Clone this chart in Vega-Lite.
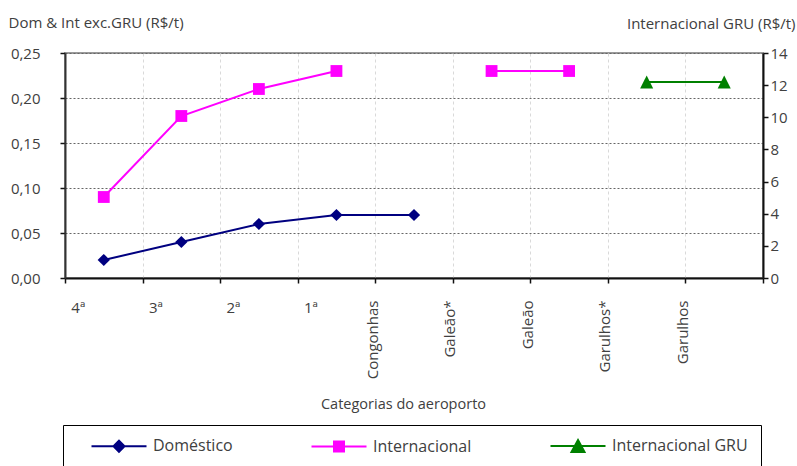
{
  "$schema": "https://vega.github.io/schema/vega-lite/v6.json",
  "width": 698,
  "height": 225,
  "autosize": {"type": "none"},
  "padding": {"left": 65, "top": 53, "right": 34, "bottom": 188},
  "config": {
    "font": "Open Sans",
    "view": {"stroke": "#9a9a9a", "strokeWidth": 2},
    "axis": {
      "labelFont": "Open Sans",
      "titleFont": "Open Sans",
      "labelColor": "#404040",
      "titleColor": "#404040",
      "labelFontSize": 15,
      "titleFontSize": 15,
      "titleFontWeight": "normal",
      "domainColor": "#111111",
      "tickColor": "#111111",
      "domainWidth": 2,
      "tickWidth": 1.5,
      "tickSize": 5
    }
  },
  "data": {
    "values": [
      {"categoria": "4ª", "serie": "Doméstico", "valor": 0.02, "trecho": 1},
      {"categoria": "3ª", "serie": "Doméstico", "valor": 0.04, "trecho": 1},
      {"categoria": "2ª", "serie": "Doméstico", "valor": 0.06, "trecho": 1},
      {"categoria": "1ª", "serie": "Doméstico", "valor": 0.07, "trecho": 1},
      {"categoria": "Congonhas", "serie": "Doméstico", "valor": 0.07, "trecho": 1},
      {"categoria": "4ª", "serie": "Internacional", "valor": 0.09, "trecho": 1},
      {"categoria": "3ª", "serie": "Internacional", "valor": 0.18, "trecho": 1},
      {"categoria": "2ª", "serie": "Internacional", "valor": 0.21, "trecho": 1},
      {"categoria": "1ª", "serie": "Internacional", "valor": 0.23, "trecho": 1},
      {"categoria": "Galeão*", "serie": "Internacional", "valor": 0.23, "trecho": 2},
      {"categoria": "Galeão", "serie": "Internacional", "valor": 0.23, "trecho": 2},
      {"categoria": "Garulhos*", "serie": "Internacional GRU", "valor": 12.2, "trecho": 1},
      {"categoria": "Garulhos", "serie": "Internacional GRU", "valor": 12.2, "trecho": 1}
    ]
  },
  "encoding": {
    "x": {
      "field": "categoria",
      "type": "nominal",
      "scale": {
        "domain": ["4ª", "3ª", "2ª", "1ª", "Congonhas", "Galeão*", "Galeão", "Garulhos*", "Garulhos"],
        "paddingInner": 0,
        "paddingOuter": 0
      },
      "axis": {
        "orient": "bottom",
        "tickBand": "extent",
        "grid": true,
        "gridColor": "#d9d9d9",
        "gridDash": [3, 3],
        "gridWidth": 1,
        "labelPadding": 17,
        "labelAngle": {"expr": "indexof(['4ª', '3ª', '2ª', '1ª'], datum.value) >= 0 ? 0 : -90"},
        "labelAlign": {"condition": {"test": "indexof(['4ª', '3ª', '2ª', '1ª'], datum.value) >= 0", "value": "center"}, "value": "right"},
        "labelBaseline": {"condition": {"test": "indexof(['4ª', '3ª', '2ª', '1ª'], datum.value) >= 0", "value": "top"}, "value": "middle"},
        "labelOffset": {"condition": {"test": "indexof(['4ª', '3ª', '2ª', '1ª'], datum.value) >= 0", "value": -26}, "value": -42},
        "title": "Categorias do aeroporto",
        "titleFontSize": 14.5,
        "titleX": 338,
        "titleY": 130,
        "titleAlign": "center",
        "titleBaseline": "alphabetic"
      }
    }
  },
  "layer": [
    {
      "encoding": {
        "y": {
          "field": "valor",
          "type": "quantitative",
          "scale": {"domain": [0, 0.25], "nice": false, "zero": true},
          "axis": {
            "orient": "left",
            "values": [0, 0.05, 0.1, 0.15, 0.2, 0.25],
            "labelExpr": "replace(format(datum.value, '.2f'), '.', ',')",
            "labelPadding": 20,
            "grid": true,
            "gridColor": "#666666",
            "gridDash": [2, 2],
            "gridWidth": 1,
            "domainColor": "#333333",
            "title": "Dom & Int exc.GRU (R$/t)",
            "titleAngle": 0,
            "titleAlign": "left",
            "titleBaseline": "alphabetic",
            "titleX": -57,
            "titleY": -26
          }
        }
      },
      "layer": [
        {
          "transform": [{"filter": "datum.serie == 'Doméstico'"}],
          "mark": {"type": "line", "color": "#000080", "strokeWidth": 2},
          "encoding": {"detail": {"field": "trecho", "type": "nominal"}}
        },
        {
          "transform": [{"filter": "datum.serie == 'Doméstico'"}],
          "mark": {"type": "point", "shape": "diamond", "filled": true, "color": "#000080", "size": 150, "opacity": 1}
        },
        {
          "transform": [{"filter": "datum.serie == 'Internacional'"}],
          "mark": {"type": "line", "color": "#ff00ff", "strokeWidth": 2},
          "encoding": {"detail": {"field": "trecho", "type": "nominal"}}
        },
        {
          "transform": [{"filter": "datum.serie == 'Internacional'"}],
          "mark": {"type": "point", "shape": "square", "filled": true, "color": "#ff00ff", "size": 140, "opacity": 1}
        },
        {
          "transform": [{"filter": "datum.valor < 0"}],
          "mark": {"type": "point", "filled": true, "size": 100, "strokeWidth": 2, "opacity": 1},
          "encoding": {
            "fill": {
              "field": "serie",
              "type": "nominal",
              "scale": {"domain": ["Doméstico", "Internacional", "Internacional GRU"], "range": ["#000080", "#ff00ff", "#008000"]},
              "legend": {
                "orient": "none",
                "legendX": -2,
                "legendY": 372,
                "direction": "horizontal",
                "title": null,
                "strokeColor": "#000000",
                "padding": 13,
                "symbolSize": 100,
                "symbolStrokeWidth": 2,
                "symbolOpacity": 1,
                "symbolOffset": 35,
                "labelOffset": 26,
                "columnPadding": 63,
                "labelFont": "Open Sans",
                "labelFontSize": 16,
                "labelColor": "#404040",
                "labelLimit": 500,
                "labelExpr": "datum.value == 'Internacional GRU' ? 'Internacional GRU\u00a0\u00a0\u00a0\u00a0\u00a0\u00a0\u00a0\u00a0\u00a0\u00a0\u00a0\u00a0\u00a0\u00a0\u00a0' : datum.value"
              }
            },
            "stroke": {
              "field": "serie",
              "type": "nominal",
              "scale": {"domain": ["Doméstico", "Internacional", "Internacional GRU"], "range": ["#000080", "#ff00ff", "#008000"]}
            },
            "shape": {
              "field": "serie",
              "type": "nominal",
              "scale": {
                "domain": ["Doméstico", "Internacional", "Internacional GRU"],
                "range": [
                  "M-5.5,0H5.5M0,-1.1L1.1,0L0,1.1L-1.1,0Z",
                  "M-5.5,0H5.5M-1,-1H1V1H-1Z",
                  "M-5.5,0H5.5M0,-1.2L1.3,1.2H-1.3Z"
                ]
              }
            }
          }
        }
      ]
    },
    {
      "transform": [{"filter": "datum.serie == 'Internacional GRU'"}],
      "encoding": {
        "y": {
          "field": "valor",
          "type": "quantitative",
          "scale": {"domain": [0, 14], "nice": false, "zero": true},
          "axis": {
            "orient": "right",
            "values": [0, 2, 4, 6, 8, 10, 12, 14],
            "labelPadding": 2,
            "grid": false,
            "title": "Internacional GRU (R$/t)",
            "titleAngle": 0,
            "titleAlign": "right",
            "titleBaseline": "alphabetic",
            "titleX": 32,
            "titleY": -25
          }
        }
      },
      "layer": [
        {
          "mark": {"type": "line", "color": "#008000", "strokeWidth": 2}
        },
        {
          "mark": {"type": "point", "shape": "M0,-1L1,1H-1Z", "filled": true, "color": "#008000", "size": 170, "opacity": 1}
        }
      ]
    }
  ],
  "resolve": {"scale": {"y": "independent"}}
}
